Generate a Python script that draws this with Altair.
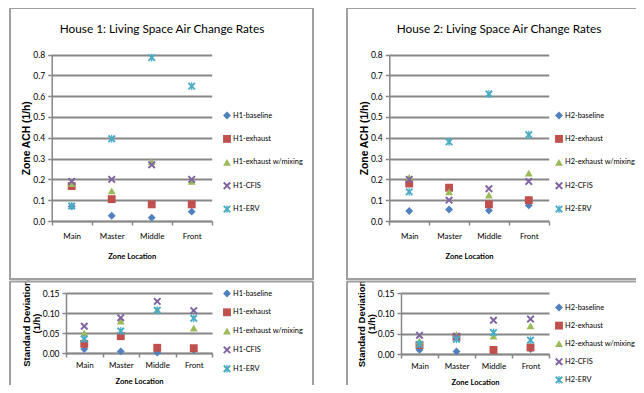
import altair as alt
import pandas as pd

zones = ["Main", "Master", "Middle", "Front"]
suffixes = ["baseline", "exhaust", "exhaust w/mixing", "CFIS", "ERV"]

# House 1 - zone ACH (1/h)
h1_ach_baseline = [0.07, 0.025, 0.016, 0.045]
h1_ach_exhaust = [0.168, 0.105, 0.08, 0.08]
h1_ach_mixing = [0.18, 0.145, 0.285, 0.19]
h1_ach_cfis = [0.19, 0.2, 0.27, 0.2]
h1_ach_erv = [0.072, 0.395, 0.785, 0.648]

# House 2 - zone ACH (1/h)
h2_ach_baseline = [0.048, 0.055, 0.05, 0.075]
h2_ach_exhaust = [0.18, 0.16, 0.08, 0.1]
h2_ach_mixing = [0.21, 0.14, 0.125, 0.23]
h2_ach_cfis = [0.2, 0.1, 0.155, 0.19]
h2_ach_erv = [0.14, 0.38, 0.61, 0.415]

# House 1 - standard deviation (1/h)
h1_sd_baseline = [0.01, 0.004, 0.001, 0.008]
h1_sd_exhaust = [0.023, 0.042, 0.013, 0.012]
h1_sd_mixing = [0.05, 0.08, 0.108, 0.0625]
h1_sd_cfis = [0.067, 0.088, 0.129, 0.106]
h1_sd_erv = [0.035, 0.055, 0.107, 0.087]

# House 2 - standard deviation (1/h)
h2_sd_baseline = [0.01, 0.006, 0.008, 0.012]
h2_sd_exhaust = [0.022, 0.042, 0.01, 0.016]
h2_sd_mixing = [0.032, 0.048, 0.044, 0.069]
h2_sd_cfis = [0.046, 0.044, 0.083, 0.086]
h2_sd_erv = [0.024, 0.036, 0.053, 0.034]

ach_ticks = [0.0, 0.1, 0.2, 0.3, 0.4, 0.5, 0.6, 0.7, 0.8]
sd_ticks = [0.0, 0.05, 0.10, 0.15]

colors = ["#4F81BD", "#C0504D", "#9BBB59", "#8064A2", "#4BACC6"]
X_PATH = ("M0,-0.35L0.65,-1L1,-0.65L0.35,0L1,0.65L0.65,1L0,0.35L-0.65,1"
          "L-1,0.65L-0.35,0L-1,-0.65L-0.65,-1Z")
STAR_PATH = ("M-0.15,-1L0.15,-1L0.15,-0.5L0.65,-1L1,-0.65L0.35,0L1,0.65L0.65,1"
             "L0.15,0.5L0.15,1L-0.15,1L-0.15,0.5L-0.65,1L-1,0.65L-0.35,0L-1,-0.65"
             "L-0.65,-1L-0.15,-0.5Z")
shapes = ["diamond", "square", "triangle-up", X_PATH, STAR_PATH]

FONT = "Lato, Liberation Sans, sans-serif"
BOLDF = "Liberation Sans, Arial, sans-serif"
GRID = "#878787"
BORDER = "#A0A0A0"

CW, CH = 628, 377  # whole canvas


def make_df(prefix, arrays):
    rows = []
    for s, vals in zip(suffixes, arrays):
        for z, v in zip(zones, vals):
            rows.append({"series": f"{prefix}-{s}", "zone": z, "value": v})
    return pd.DataFrame(rows)


def rule_v(x, y1, y2):
    return alt.Chart(pd.DataFrame({"k": [0]})).mark_rule(
        color=BORDER, strokeWidth=2).encode(
        x=alt.value(x), y=alt.value(y1), y2=alt.value(y2))


def rule_h(y, x1, x2):
    return alt.Chart(pd.DataFrame({"k": [0]})).mark_rule(
        color=BORDER, strokeWidth=2).encode(
        y=alt.value(y), x=alt.value(x1), x2=alt.value(x2))


def panel(prefix, arrays, xr, yr, ydomain, yticks, yfmt, ytitle,
          ytitle_size, leg_x, leg_y, leg_row, borders, title=None,
          title_xy=None, xlab_pad=7, xtitle_pad=11, ytitle_pad=1):
    df = make_df(prefix, arrays)
    names = [f"{prefix}-{s}" for s in suffixes]
    legend = alt.Legend(
        title=None, orient="none", legendX=leg_x, legendY=leg_y,
        direction="vertical", padding=0, rowPadding=leg_row,
        labelFont=FONT, labelFontSize=7.4, labelColor="black",
        labelOffset=2, symbolSize=62, symbolStrokeWidth=0)
    pts = alt.Chart(df).mark_point(filled=True, size=62, opacity=1).encode(
        x=alt.X("zone:N",
                scale=alt.Scale(domain=zones, range=xr, paddingInner=0,
                                paddingOuter=0),
                axis=alt.Axis(orient="bottom", grid=False, tickBand="extent",
                              labelAngle=0,
                              domainColor=GRID, domainWidth=1.5,
                              tickColor=GRID, tickWidth=1.5, tickSize=4,
                              labelFont=FONT, labelFontSize=8,
                              labelColor="black", labelPadding=xlab_pad,
                              offset=-(CH - yr[0]),
                              title="Zone Location", titleFont=FONT,
                              titleFontSize=7.6, titleFontWeight="bold",
                              titleColor="black", titlePadding=xtitle_pad)),
        y=alt.Y("value:Q",
                scale=alt.Scale(domain=ydomain, range=yr, nice=False),
                axis=alt.Axis(orient="left", values=yticks, format=yfmt,
                              grid=True, gridColor=GRID, gridWidth=2,
                              domainColor=GRID, domainWidth=1.5,
                              tickColor=GRID, tickWidth=1.5, tickSize=4,
                              labelFont=FONT, labelFontSize=8.5,
                              labelColor="black", labelPadding=3,
                              offset=-xr[0], minExtent=0,
                              title=ytitle, titleFont=BOLDF,
                              titleFontSize=ytitle_size,
                              titleFontWeight="bold", titleColor="black",
                              titlePadding=ytitle_pad, titleLineHeight=10)),
        color=alt.Color("series:N", scale=alt.Scale(domain=names, range=colors),
                        legend=legend),
        shape=alt.Shape("series:N", scale=alt.Scale(domain=names, range=shapes),
                        legend=legend),
    )
    layers = [pts]
    for b in borders:
        if b[0] == "v":
            layers.append(rule_v(b[1], b[2], b[3]))
        else:
            layers.append(rule_h(b[1], b[2], b[3]))
    if title is not None:
        layers.append(
            alt.Chart(pd.DataFrame({"t": [title]})).mark_text(
                font=FONT, fontSize=11.8, align="center", baseline="middle",
                color="black").encode(
                text="t:N", x=alt.value(title_xy[0]), y=alt.value(title_xy[1])))
    return alt.layer(*layers)


tl = panel("H1", [h1_ach_baseline, h1_ach_exhaust, h1_ach_mixing, h1_ach_cfis, h1_ach_erv],
           [43.7, 203.7], [213, 46.5], [0, 0.8], ach_ticks, ".1f",
           "Zone ACH (1/h)", 10.3, 215, 103.5, 15.4,
           [("v", 2, 0, 272), ("v", 305, 0, 272), ("h", 0, 2, 305), ("h", 271, 2, 305)],
           title="House 1: Living Space Air Change Rates", title_xy=(154, 21),
           xtitle_pad=12)

tr = panel("H2", [h2_ach_baseline, h2_ach_exhaust, h2_ach_mixing, h2_ach_cfis, h2_ach_erv],
           [381.3, 540.7], [213, 46.5], [0, 0.8], ach_ticks, ".1f",
           "Zone ACH (1/h)", 10.3, 547, 103.5, 15.4,
           [("v", 339, 0, 272), ("h", 0, 339, CW), ("h", 271, 339, CW)],
           title="House 2: Living Space Air Change Rates", title_xy=(491, 21),
           xtitle_pad=12)

bl = panel("H1", [h1_sd_baseline, h1_sd_exhaust, h1_sd_mixing, h1_sd_cfis, h1_sd_erv],
           [58, 204], [345, 285], [0, 0.15], sd_ticks, ".2f",
           ["Standard Deviation", "(1/h)"], 9.5, 215, 281.5, 10.8,
           [("v", 2, 273, CH), ("v", 305, 273, CH), ("h", 273.5, 2, 305)],
           xlab_pad=4, xtitle_pad=8, ytitle_pad=1)

br = panel("H2", [h2_sd_baseline, h2_sd_exhaust, h2_sd_mixing, h2_sd_cfis, h2_sd_erv],
           [393, 541], [346, 285], [0, 0.15], sd_ticks, ".2f",
           ["Standard Deviation", "(1/h)"], 9.5, 547, 295.5, 10.1,
           [("v", 339, 273, CH), ("h", 273.5, 339, CW)],
           xlab_pad=4, xtitle_pad=8, ytitle_pad=1)

ind = dict(x="independent", y="independent", color="independent", shape="independent")
chart = alt.layer(tl, tr, bl, br).resolve_scale(**ind).resolve_axis(
    x="independent", y="independent").resolve_legend(
    color="independent", shape="independent")
chart = chart.properties(
    width=CW, height=CH, padding=0, background="white",
    autosize=alt.AutoSizeParams(type="none")).configure_view(strokeWidth=0)

chart.save("out.html", embed_options={"renderer": "svg", "actions": False})
